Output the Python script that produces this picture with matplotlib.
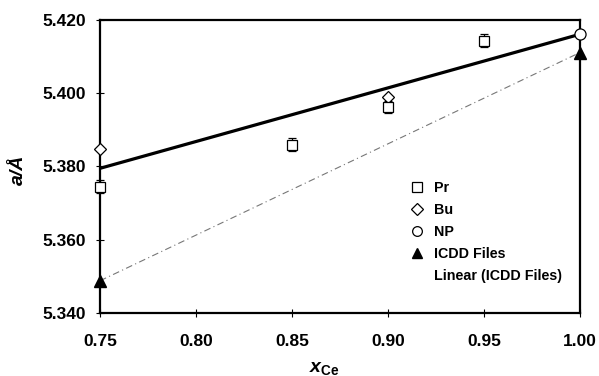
import matplotlib
matplotlib.use("Agg")
import matplotlib.pyplot as plt
from matplotlib.lines import Line2D

plt.rcParams['font.family'] = ['Liberation Sans', 'DejaVu Sans']
plt.rcParams['font.weight'] = 'bold'
plt.rcParams['mathtext.fontset'] = 'custom'
plt.rcParams['mathtext.it'] = 'Liberation Sans:bold:italic'
plt.rcParams['mathtext.rm'] = 'Liberation Sans:bold'
plt.rcParams['mathtext.bf'] = 'Liberation Sans:bold'

# Data
pr_x = [0.75, 0.85, 0.90, 0.95]
pr_y = [5.3745, 5.386, 5.3963, 5.4143]
pr_err = [0.0017, 0.0017, 0.0017, 0.0018]
bu_x = [0.75, 0.90]
bu_y = [5.3848, 5.399]
np_x = [1.00]
np_y = [5.4161]
icdd_x = [0.75, 1.00]
icdd_y = [5.3488, 5.4111]
fit_x = [0.75, 1.00]
fit_y = [5.3795, 5.4161]

xticks = [0.75, 0.80, 0.85, 0.90, 0.95, 1.00]
yticks = [5.340, 5.360, 5.380, 5.400, 5.420]

fig = plt.figure(figsize=(5.99, 3.76), dpi=100)
ax = fig.add_axes([0.167, 0.1676, 0.801, 0.7792])

# bold fit line (not in legend)
ax.plot(fit_x, fit_y, color='black', lw=2.3, zorder=3, solid_capstyle='butt')
# ICDD linear trend
ax.plot(icdd_x, icdd_y, color='#777777', lw=0.8, ls=(0, (6, 3, 1, 3)), zorder=2)

ax.errorbar(pr_x, pr_y, yerr=pr_err, fmt='s', ms=7, mfc='white', mec='black',
            mew=0.9, ecolor='black', elinewidth=0.9, capsize=3, capthick=0.9,
            zorder=5, clip_on=False)
ax.plot(bu_x, bu_y, 'D', ms=6, mfc='white', mec='black', mew=0.9, zorder=5,
        clip_on=False, ls='none')
ax.plot(np_x, np_y, 'o', ms=8, mfc='white', mec='black', mew=0.9, zorder=6,
        clip_on=False, ls='none')
ax.plot(icdd_x, icdd_y, '^', ms=8, mfc='black', mec='black', zorder=6,
        clip_on=False, ls='none')

ax.set_xlim(0.75, 1.00)
ax.set_ylim(5.340, 5.420)
ax.set_xticks(xticks)
ax.set_yticks(yticks)
ax.set_xticklabels([f"{v:.2f}" for v in xticks])
ax.set_yticklabels([f"{v:.3f}" for v in yticks])
ax.tick_params(direction='inout', length=6, width=0.8, labelsize=12.5)
ax.tick_params(axis='x', pad=12)
ax.tick_params(axis='y', pad=7)
for lab in ax.get_xticklabels() + ax.get_yticklabels():
    lab.set_fontweight('bold')
for s in ax.spines.values():
    s.set_linewidth(1.6)
    s.set_color('black')

ax.set_ylabel('a/Å', fontsize=14, fontweight='bold', fontstyle='italic')
ax.yaxis.set_label_coords(-0.152, 0.488)
ax.set_xlabel(r'$\mathit{x}_{\mathrm{Ce}}$', fontsize=14)
ax.xaxis.set_label_coords(0.467, -0.16)

handles = [
    Line2D([], [], marker='s', ms=7, mfc='white', mec='black', mew=0.9, ls='none'),
    Line2D([], [], marker='D', ms=6, mfc='white', mec='black', mew=0.9, ls='none'),
    Line2D([], [], marker='o', ms=7, mfc='white', mec='black', mew=0.9, ls='none'),
    Line2D([], [], marker='^', ms=7, mfc='black', mec='black', ls='none'),
    Line2D([], [], color='white', lw=0.5),
]
labels = ['Pr', 'Bu', 'NP', 'ICDD Files', 'Linear (ICDD Files)']
leg = ax.legend(handles, labels, loc='lower right', bbox_to_anchor=(0.99, 0.06),
                frameon=False, prop={'weight': 'bold', 'size': 10.3},
                handlelength=1.0, handletextpad=0.7, labelspacing=0.55)

fig.savefig('out.png', dpi=100)
